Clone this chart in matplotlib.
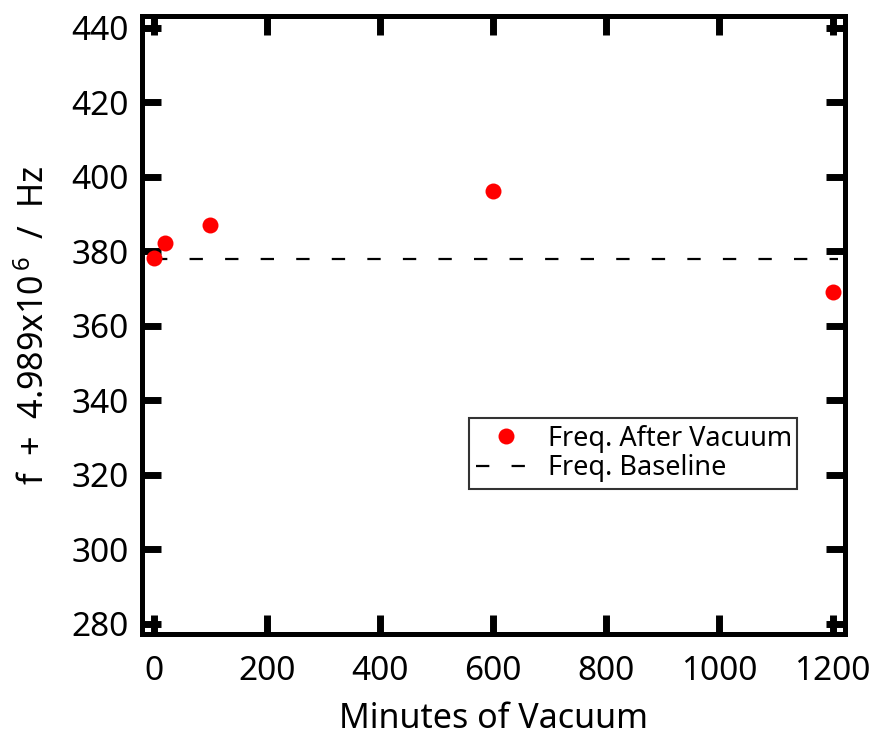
import numpy as np
import matplotlib
matplotlib.use("Agg")
import matplotlib.pyplot as plt

plt.rcParams['font.family'] = ['Noto Sans', 'DejaVu Sans']
plt.rcParams['mathtext.fontset'] = 'custom'
plt.rcParams['mathtext.rm'] = 'Noto Sans'

# --- donnees ---
minutes = [0, 20, 100, 600, 1200]
freq_vide = [378.3, 382.3, 387.0, 396.2, 369.1]
base_x = [0, 1210]
base_y = [378.0, 378.0]

xticks = [0, 200, 400, 600, 800, 1000, 1200]
yticks = [280, 300, 320, 340, 360, 380, 400, 420, 440]

fig = plt.figure(figsize=(8.71, 7.40), dpi=100)
ax = fig.add_axes([0.1636, 0.1432, 0.8066, 0.8352])

ax.plot(minutes, freq_vide, "o", color="red", ms=11.5, mec="none",
        label="Freq. After Vacuum", zorder=3)
ax.plot(base_x, base_y, color="black", lw=1.6, dashes=(6, 10),
        label="Freq. Baseline", zorder=2)

ax.set_xlim(-20, 1222)
ax.set_ylim(277.2, 443.2)
ax.set_xticks(xticks)
ax.set_yticks(yticks)

for s in ax.spines.values():
    s.set_linewidth(3.6)
ax.tick_params(direction="in", length=14, width=5, top=True, right=True,
               labelsize=24)
ax.tick_params(axis="x", pad=15)
ax.tick_params(axis="y", pad=10)

ax.set_xlabel("Minutes of Vacuum", fontsize=24.5, labelpad=10)
ax.set_ylabel(r"f  +  4.989x10$^{\,6}$  /  Hz", fontsize=24.5, labelpad=14)

leg = ax.legend(loc="lower left", bbox_to_anchor=(0.465, 0.235, 0.467, 0.129),
                mode="expand", borderaxespad=0, fontsize=19.5, frameon=True,
                fancybox=False, edgecolor="black", handlelength=2.2,
                handletextpad=0.45, borderpad=0.25, labelspacing=0.05)
leg.get_frame().set_linewidth(1.5)

fig.savefig("out.png", dpi=100)
